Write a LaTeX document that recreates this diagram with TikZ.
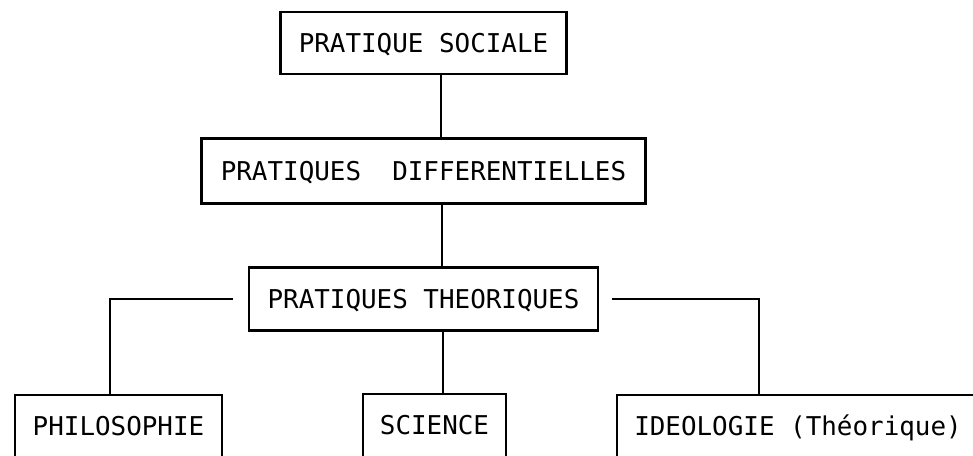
\documentclass[tikz,border=0pt]{standalone}
\usepackage{fontspec}
\newfontfamily\printfont{DejaVu Sans Mono}
\usetikzlibrary{positioning}
\tikzset{
node distance=64pt, % centre to centre distance of the stacked boxes
box/.style={draw, rectangle, inner sep=0pt, text height=9.5pt, text depth=0pt, font=\printfont\fontsize{12.95}{15}\selectfont}, % every framed label
leaf/.style={box, anchor=north, text depth=45pt, inner ysep=10.5pt}, % boxes running off the bottom edge
}

\begin{document}
\begin{tikzpicture}[x={(0.5pt,0)}, y={(0,-0.5pt)}, line width=1.1pt]
    \useasboundingbox (0,0) rectangle (973,455);
    \clip (0,0) rectangle (973,455);
    \node[box, minimum width=143pt, minimum height=31pt] (social) at (423.5,43) {PRATIQUE SOCIALE};
    \node[box, minimum width=222pt, minimum height=32.5pt, below of=social] (diff) {PRATIQUES\ \ DIFFERENTIELLES};
    \node[box, minimum width=174.5pt, minimum height=31.5pt, below of=diff] (theo) {PRATIQUES THEORIQUES};
    \node[leaf, minimum width=103.5pt] (philo) at (118.5,394) {PHILOSOPHIE};
    \node[leaf, minimum width=71.5pt] (science) at (434.5,393) {SCIENCE};
    \node[leaf, minimum width=181pt] (ideo) at (798,394) {IDEOLOGIE (Théorique)};
    \draw
    (social.south -| 441,0) -- (diff.north -| 441,0)
    (diff.south -| 442,0) -- (theo.north -| 442,0)
    (theo.south -| 443,0) -- (science.north -| 443,0);
    \draw (theo.west) ++(-15,0) -| (philo.north -| 110,0);
    \draw (theo.east) ++(13,0) -| (ideo.north -| 759,0);
  \end{tikzpicture}
\end{document}
